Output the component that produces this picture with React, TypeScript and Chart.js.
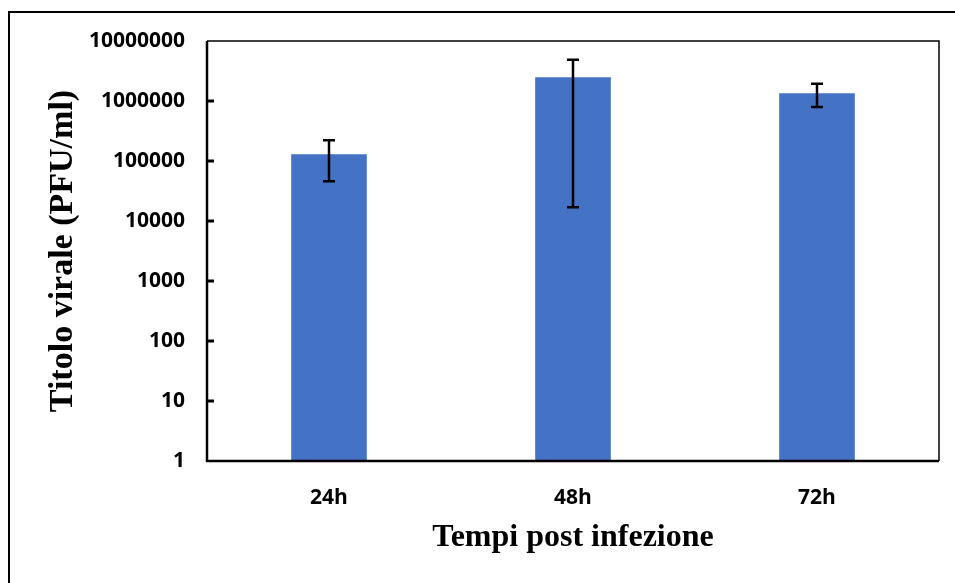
import React, { useEffect, useRef } from "react";
import { Chart, registerables } from "chart.js";

Chart.register(...registerables);

const categories = ["24h", "48h", "72h"];
const titres = [129000, 2480000, 1340000];
const errLow = [46000, 17000, 794000];
const errHigh = [221000, 4880000, 1940000];
const yTicks = [1, 10, 100, 1000, 10000, 100000, 1000000, 10000000];

const errorBarsPlugin = {
  id: "errorBars",
  afterDatasetsDraw(chart: any) {
    const ctx = chart.ctx;
    const meta = chart.getDatasetMeta(0);
    const y = chart.scales.y;
    ctx.save();
    ctx.strokeStyle = "#000";
    ctx.lineWidth = 2.5;
    meta.data.forEach((bar: any, i: number) => {
      const x = bar.x;
      const yTop = y.getPixelForValue(errHigh[i]);
      const yBot = y.getPixelForValue(errLow[i]);
      const cap = 6;
      ctx.beginPath();
      ctx.moveTo(x, yTop);
      ctx.lineTo(x, yBot);
      ctx.moveTo(x - cap, yTop);
      ctx.lineTo(x + cap, yTop);
      ctx.moveTo(x - cap, yBot);
      ctx.lineTo(x + cap, yBot);
      ctx.stroke();
    });
    ctx.restore();
  },
};

const framePlugin = {
  id: "frame",
  afterDraw(chart: any) {
    const ctx = chart.ctx;
    const a = chart.chartArea;
    const y = chart.scales.y;
    ctx.save();
    ctx.strokeStyle = "#000";
    ctx.lineWidth = 1.5;
    ctx.beginPath();
    ctx.moveTo(a.left, a.top);
    ctx.lineTo(a.right, a.top);
    ctx.lineTo(a.right, a.bottom);
    ctx.stroke();
    ctx.lineWidth = 2.5;
    ctx.beginPath();
    ctx.moveTo(a.left, a.top);
    ctx.lineTo(a.left, a.bottom);
    ctx.lineTo(a.right, a.bottom);
    ctx.stroke();
    ctx.lineWidth = 3;
    yTicks.slice(1, -1).forEach((v) => {
      const py = y.getPixelForValue(v);
      ctx.beginPath();
      ctx.moveTo(a.left, py);
      ctx.lineTo(a.left + 7, py);
      ctx.stroke();
    });
    ctx.restore();
  },
};

export default function App() {
  const ref = useRef<HTMLCanvasElement>(null);
  useEffect(() => {
    if (!ref.current) return;
    const chart = new Chart(ref.current, {
      type: "bar",
      data: {
        labels: categories,
        datasets: [
          {
            data: titres,
            backgroundColor: "#4472C4",
            categoryPercentage: 1,
            barPercentage: 0.31,
          },
        ],
      },
      options: {
        animation: false,
        responsive: false,
        layout: { padding: { top: 41, right: 16, left: 0, bottom: 0 } },
        plugins: { legend: { display: false }, tooltip: { enabled: false } },
        scales: {
          x: {
            grid: { display: false, drawTicks: false },
            border: { display: false },
            ticks: {
              color: "#000",
              padding: 24,
              font: { family: "'Open Sans'", weight: "bold", size: 21 },
            },
            title: {
              display: true,
              text: "Tempi post infezione",
              color: "#000",
              padding: { top: 0, bottom: 26 },
              font: { family: "'Liberation Serif'", weight: "bold", size: 32 },
            },
            afterFit: (s: any) => {
              s.height = 122;
            },
          },
          y: {
            type: "logarithmic",
            min: 1,
            max: 10000000,
            grid: { display: false, drawTicks: false },
            border: { display: false },
            afterBuildTicks: (s: any) => {
              s.ticks = yTicks.map((v) => ({ value: v }));
            },
            ticks: {
              color: "#000",
              padding: 22,
              autoSkip: false,
              callback: (v: any) => String(v),
              font: { family: "'Open Sans'", weight: "bold", size: 21 },
            },
            title: {
              display: true,
              text: "Titolo virale (PFU/ml)",
              color: "#000",
              padding: { top: 43, bottom: 0 },
              font: { family: "'Liberation Serif'", weight: "bold", size: 34 },
            },
            afterFit: (s: any) => {
              s.width = 207;
            },
          },
        },
      },
      plugins: [errorBarsPlugin, framePlugin],
    });
    return () => chart.destroy();
  }, []);

  return (
    <div
      style={{
        position: "absolute",
        left: 0,
        top: 0,
        width: 955,
        height: 583,
        overflow: "hidden",
        background: "#fff",
      }}
    >
      <div
        style={{
          position: "absolute",
          left: 8,
          top: 11,
          width: 1000,
          height: 1000,
          border: "2px solid #000",
          boxSizing: "border-box",
        }}
      />
      <canvas
        ref={ref}
        width={955}
        height={583}
        style={{ position: "absolute", left: 0, top: 0, width: 955, height: 583 }}
      />
    </div>
  );
}
